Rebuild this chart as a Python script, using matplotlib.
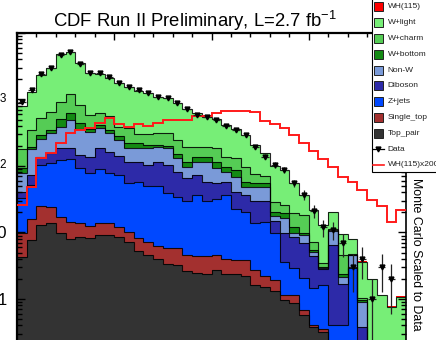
import numpy as np
import matplotlib
matplotlib.use('Agg')
import matplotlib.pyplot as plt
from matplotlib.patches import Rectangle
from matplotlib.ticker import FixedLocator, FixedFormatter, LogLocator, NullFormatter, MultipleLocator

plt.rcParams['font.family'] = ['Liberation Sans', 'DejaVu Sans']
plt.rcParams['mathtext.fontset'] = 'custom'
plt.rcParams['mathtext.rm'] = 'Liberation Sans'
plt.rcParams['mathtext.it'] = 'Liberation Sans:italic'
plt.rcParams['mathtext.bf'] = 'Liberation Sans:bold'

# ---- bin contents (40 bins) ----
top_pair = [4.33, 7.7, 13.0, 13.8, 9.7, 8.0, 8.5, 8.2, 9.2, 9.2, 8.7, 7.3, 5.3, 4.6, 4.0, 3.4, 3.3, 2.6, 2.5, 2.4,
            2.7, 2.35, 2.4, 2.2, 1.6, 1.5, 1.3, 0.97, 0.86, 0.58, 0.38, 0.32, 0.17, 0.17, 0.17, 0.14, 0.1, 0.1, 0.1, 0.1]
single_top = [5.5, 8.1, 12.0, 10.6, 7.2, 6.5, 5.5, 4.5, 4.8, 4.6, 3.55, 3.0, 2.85, 2.7, 2.3, 2.35, 2.5, 2.0, 1.95, 2.0,
              1.9, 1.65, 1.4, 1.6, 1.1, 0.7, 0.6, 0.18, 0.29, 0.11, 0.03, 0.03, 0.03, 0.03, 0.03, 0.03, 0.02, 0.02, 0.02, 0.02]
z_jets = [23.2, 35.1, 78.5, 85.4, 106.1, 111.6, 78.3, 65.0, 75.2, 65.5, 61.0, 45.2, 49.3, 41.9, 43.7, 33.9, 28.0, 25.5, 32.2, 25.7,
          27.0, 32.6, 18.4, 16.6, 11.3, 12.3, 8.05, 2.45, 1.75, 1.37, 1.04, 1.27, 0.2, 0.2, 2.73, 0.03, 0.02, 0.02, 0.02, 0.02]
diboson = [8.1, 22.3, 33.0, 45.4, 61.6, 58.5, 54.0, 60.4, 95.4, 84.7, 68.1, 60.6, 58.6, 54.3, 66.1, 63.8, 48.3, 35.2, 36.6, 28.0,
           23.3, 21.5, 18.8, 16.1, 16.1, 15.6, 5.1, 6.2, 5.57, 4.98, 2.98, 1.21, 6.08, 1.27, 0.1, 0.18, 0.02, 0.02, 0.02, 0.02]
non_w = [37.4, 104.8, 115.5, 154.8, 205.4, 307.4, 210.0, 190.0, 184.4, 149.5, 104.7, 68.5, 68.5, 81.1, 74.9, 81.1, 48.5, 32.3, 42.9, 58.0,
         37.4, 24.0, 28.0, 12.2, 18.7, 18.7, 2.7, 6.7, 1.46, 2.14, 0.71, 0.1, 4.0, 0.48, 1.48, 0.53, 0.02, 0.02, 0.02, 0.02]
w_bottom = [13.8, 17.0, 40.6, 38.0, 114.0, 128.0, 82.0, 38.0, 45.0, 34.5, 36.7, 34.8, 34.8, 22.4, 16.0, 17.4, 20.8, 17.2, 19.1, 19.1,
            21.4, 15.5, 18.0, 8.7, 7.3, 6.7, 2.8, 3.1, 2.27, 0.66, 0.32, 0.1, 0.4, 0.22, 0.08, 0.055, 0.01, 0.01, 0.01, 0.01]
w_charm = [85.7, 153.0, 228.4, 308.0, 423.0, 577.0, 387.5, 219.0, 213.0, 217.0, 107.3, 153.2, 83.6, 93.0, 103.0, 108.0, 94.6, 80.2, 59.8, 55.8,
           70.9, 40.4, 43.5, 40.1, 19.7, 15.3, 7.8, 6.3, 7.4, 8.47, 1.74, 0.45, 0.4, 2.21, 0.16, 0.06, 0.03, 0.03, 0.03, 0.03]
w_light = [620, 962, 1815, 2351, 3859, 4037, 2674, 1944, 1790, 1519, 1363, 1152, 1040, 939, 792, 732, 631, 518, 425, 349,
           319, 276, 225, 195, 131, 84.4, 71.7, 61.2, 35.9, 18.3, 14.6, 9.5, 9.2, 4.9, 3.15, 2.62, 1.76, 0.93, 0.55, 0.86]
wh_x2000 = [25.9, 48.8, 130.6, 155.2, 219.4, 316.7, 348, 369, 438.5, 532.7, 428, 390, 424, 403.6, 448, 492, 492, 492, 565, 565,
            633, 671, 671, 679, 656, 475, 428, 373, 292.6, 222, 168, 127.4, 96.6, 68.3, 57.5, 43.6, 30.8, 25.0, 14.5, 21.8]
data = [927, 1390, 2393, 3007, 4670, 5178, 3420, 2529, 2477, 2157, 1753, 1525, 1390, 1253, 1102, 1042, 877, 713, 585, 540,
        492, 400, 348, 292, 191, 138, 104, 87, 55, 37, 21, 12, 11, 7, 3, 4, 1, 3, 2, 0]

wh_scale = 2000
stack = [top_pair, single_top, z_jets, diboson, non_w, w_bottom, w_charm, w_light,
         list(np.array(wh_x2000) / wh_scale)]
stack_colors = ['#333333', '#a3302f', '#0048ff', '#2d2aa8', '#7a9ad8', '#138a13', '#55cc55', '#77ee77', '#ff0000']
legend_names = ['WH(115)', 'W+light', 'W+charm', 'W+bottom', 'Non-W', 'Diboson', 'Z+jets', 'Single_top', 'Top_pair']

nbins = len(data)
edges = np.arange(nbins + 1)
centers = edges[:-1] + 0.5

fig = plt.figure(figsize=(4.36, 3.40), dpi=100)
ax = fig.add_axes([17 / 436, -0.075, 389 / 436, 0.978])
ax.set_yscale('log')
ax.set_xlim(0, nbins)
ax.set_ylim(0.1, 1e4)

# filled stack first, then the outlines
bottom = np.full(nbins, 1e-3)
tops = []
for vals, col in zip(stack, stack_colors):
    top = bottom + np.array(vals)
    ax.stairs(top, edges, baseline=bottom, fill=True, color=col, lw=0, zorder=1)
    tops.append(top)
    bottom = top
for top in tops[:-1]:
    ax.stairs(top, edges, baseline=None, color='black', lw=0.8, alpha=0.85, zorder=2)

# signal x2000 line
ax.stairs(wh_x2000, edges, baseline=None, color='#ff1a1a', lw=1.4, zorder=3)

# data with poisson errors
d = np.array(data, dtype=float)
m = d > 0
err = np.sqrt(d[m])
ax.errorbar(centers[m], d[m], yerr=[np.minimum(err, d[m] * 0.999), err], xerr=0.38,
            fmt='v', color='black', ecolor='#222222', ms=3.5, elinewidth=0.9, capsize=0, zorder=4)

# axes cosmetics (ROOT-like)
for side in ['left', 'top']:
    ax.spines[side].set_linewidth(1.6)
ax.spines['right'].set_linewidth(1.2)
ax.spines['bottom'].set_visible(False)
ax.xaxis.set_major_locator(MultipleLocator(10))
ax.xaxis.set_minor_locator(MultipleLocator(2))
ax.tick_params(axis='x', which='both', direction='in', top=True, bottom=False,
               labelbottom=False, labeltop=False)
ax.tick_params(axis='x', which='major', length=5, width=1)
ax.tick_params(axis='x', which='minor', length=3, width=1)
ax.yaxis.set_major_locator(FixedLocator([1, 10, 100, 1000, 10000]))
ax.yaxis.set_major_formatter(FixedFormatter(['1', '10', '$10^{2}$', '$10^{3}$', '']))
ax.yaxis.set_minor_locator(LogLocator(base=10, subs=np.arange(2, 10)))
ax.yaxis.set_minor_formatter(NullFormatter())
ax.tick_params(axis='y', which='both', direction='in', left=True, right=True, labelsize=12, pad=7)
ax.tick_params(axis='y', which='major', length=6, width=1)
ax.tick_params(axis='y', which='minor', length=3.5, width=1)

fig.text(53 / 436, 1 - 26.7 / 340, 'CDF Run II Preliminary, L=2.7 fb$^{-1}$', fontsize=13.3,
         ha='left', va='baseline')
fig.text(415.5 / 436, 1 - 178 / 340, 'Monte Carlo Scaled to Data', fontsize=8.9,
         rotation=270, ha='center', va='top')

# legend box, drawn in pixel units on an overlay
lax = fig.add_axes([0, 0, 1, 1])
lax.set_xlim(0, 436)
lax.set_ylim(340, 0)
lax.axis('off')
lax.add_patch(Rectangle((372, -3), 80, 174.5, facecolor='white', edgecolor='black', lw=0.8))
row_y = 6.8
row_step = 15.8
fill_rows = list(zip(legend_names, stack_colors[::-1]))
for i, (name, col) in enumerate(fill_rows):
    y = row_y + i * row_step
    lax.add_patch(Rectangle((373.5, y - 4.5), 9.5, 9, facecolor=col, edgecolor='#222222', lw=0.7))
    lax.text(387.5, y, name, fontsize=6.0, va='center', ha='left', color='#222222')
y = row_y + 9 * row_step
lax.plot([373, 383.5], [y, y], color='black', lw=0.9)
lax.plot([378.2], [y], marker='v', color='black', ms=3.5)
lax.text(387.5, y, 'Data', fontsize=6.0, va='center', ha='left', color='#222222')
y = row_y + 10 * row_step
lax.plot([373, 383.5], [y, y], color='#ff1a1a', lw=1.2)
lax.text(387.5, y, 'WH(115)x2000', fontsize=6.0, va='center', ha='left', color='#222222')

fig.savefig('out.png', dpi=100)
